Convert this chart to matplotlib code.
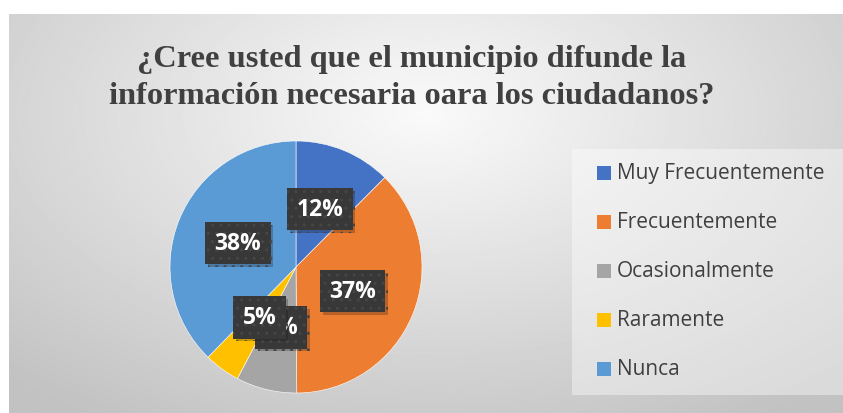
import numpy as np
import matplotlib.pyplot as plt
import matplotlib.patheffects as pe
from matplotlib.patches import Rectangle

# ── Data -------------------------------------------------------------------
categories = ["Muy Frecuentemente", "Frecuentemente", "Ocasionalmente",
              "Raramente", "Nunca"]
values = [12.45, 37.45, 7.8, 4.6, 37.7]   # shown rounded: 12, 37, 8, 5, 38
colors = ["#4472C4", "#ED7D31", "#A5A5A5", "#FFC000", "#5B9BD5"]
title = "¿Cree usted que el municipio difunde la\ninformación necesaria oara los ciudadanos?"

W, H = 843, 414
fig = plt.figure(figsize=(W / 100, H / 100), dpi=100)
fig.patch.set_facecolor("white")

# ── Chart area with radial gray gradient ----------------------------------
x0 = 9 / W
bg = fig.add_axes([x0, 0, 1 - x0, 1 - 15 / H])
bg.set_axis_off()
yy, xx = np.mgrid[0:1:300j, 0:1:600j]
r = np.sqrt(((xx - 0.5) / 0.75) ** 2 + ((yy - 0.25) / 0.9) ** 2)
shade = 0.98 - 0.22 * np.clip(r, 0, 1)
bg.imshow(shade, cmap="gray", vmin=0, vmax=1, aspect="auto",
          extent=[0, 1, 1, 0])
bg.set_xlim(0, 1)
bg.set_ylim(1, 0)

fig.text(0.488, 1 - 78 / H, title, ha="center", va="center",
         family="Liberation Serif", fontweight="bold", fontsize=23.3,
         color="#404040", linespacing=1.38)

# ── Pie --------------------------------------------------------------------
cx, cy, rad = 296, 268, 126
ax = fig.add_axes([(cx - rad) / W, 1 - (cy + rad) / H, 2 * rad / W, 2 * rad / H])
wedges, _ = ax.pie(values, colors=colors, startangle=90, counterclock=False,
                   wedgeprops=dict(edgecolor="white", linewidth=0.4))
ax.set_xlim(-1, 1)
ax.set_ylim(-1, 1)
ax.set_aspect("auto")

# label positions (fraction of radius) picked to match the reference layout
label_pos = [(0.19, 0.46), (0.45, -0.19), (-0.12, -0.48), (-0.29, -0.40), (-0.46, 0.19)]
pct = [f"{round(v / sum(values) * 100)}%" for v in values]
for (lx, ly), txt in zip(label_pos, pct):
    t = ax.text(lx, ly, txt, ha="center", va="center", color="white",
                fontsize=16.5, fontweight="bold", family="Open Sans", zorder=5,
                bbox=dict(boxstyle="square,pad=0.4", facecolor="#383838",
                          edgecolor="#464646", hatch="..", linewidth=0))
    t.get_bbox_patch().set_path_effects(
        [pe.SimplePatchShadow(offset=(2, -2), alpha=0.25), pe.Normal()])

# ── Legend ---------------------------------------------------------------
lg_ax = fig.add_axes([0, 0, 1, 1], facecolor="none")
lg_ax.set_axis_off()
lg_ax.set_xlim(0, W)
lg_ax.set_ylim(H, 0)
lg_ax.add_patch(Rectangle((572, 150), 280, 246, facecolor="white",
                          alpha=0.4, edgecolor="none"))
for i, (c, lab) in enumerate(zip(colors, categories)):
    y = 174 + i * 49
    lg_ax.add_patch(Rectangle((597, y - 7), 14, 14, facecolor=c, edgecolor="none"))
    lg_ax.text(617, y, lab, ha="left", va="center", family="Open Sans",
               fontsize=15, color="#404040")

fig.savefig("out.png", dpi=100)
